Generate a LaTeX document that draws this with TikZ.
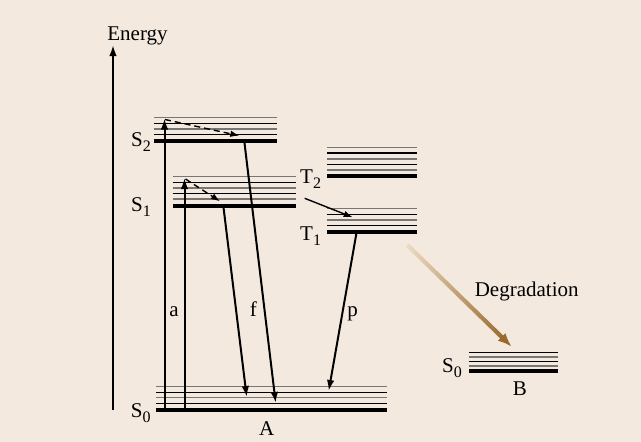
\documentclass[tikz,border=0pt]{standalone}
\usepackage{fontspec}
\setmainfont{Liberation Serif}
\usetikzlibrary{arrows.meta,calc}
\definecolor{bg}{HTML}{F3E9DF}
\definecolor{lvgray}{HTML}{767676}
\definecolor{degr}{HTML}{9A6A2C}
\definecolor{degl}{HTML}{EDDCC6}
\newcommand\lsub[1]{\raisebox{-5pt}{\fontsize{16}{16}\selectfont #1}}
\begin{document}
\begin{tikzpicture}[x=1pt,y=-1pt,
  blevel/.style={line width=1.4pt},
  glevel/.style={line width=1.4pt, draw=lvgray},
  tlevel/.style={line width=4.2pt},
  trans/.style={line width=2pt, -{Latex[length=11pt,width=7.5pt]}},
  relax/.style={line width=1.4pt, dash pattern=on 6pt off 4pt, -{Latex[length=9pt,width=6.5pt]}},
  lbl/.style={font=\fontsize{21}{24}\selectfont, inner sep=0pt, anchor=base west},
  clbl/.style={font=\fontsize{21}{24}\selectfont, inner sep=0pt, anchor=base},
]
\fill[bg] (0,0) rectangle (641,442);
\useasboundingbox (0,0) rectangle (641,442);

% Energy axis
\coordinate (axb) at (113,410);
\coordinate (axt) at (113,45);
\draw[trans] (axb) -- (axt);
\node[clbl] (energy) at (137.5,40) {Energy};

% S2 levels
\foreach \y/\s in {117.3/glevel,123.3/blevel,129/glevel,134.3/blevel}
  \draw[\s] (154,\y) -- (277,\y);
\draw[tlevel] (154,141.3) -- (277,141.3);
% S1 levels
\foreach \y/\s in {176.7/glevel,182.3/blevel,188/glevel,193.7/blevel,199/glevel}
  \draw[\s] (172.7,\y) -- (296,\y);
\draw[tlevel] (172.7,205.7) -- (296,205.7);
% T2 levels
\foreach \y/\s in {147.3/glevel,153/blevel,159/glevel,164.3/blevel,170/glevel}
  \draw[\s] (327.3,\y) -- (416.7,\y);
\draw[tlevel] (327.3,176.3) -- (416.7,176.3);
% T1 levels
\foreach \y/\s in {208.7/glevel,214.3/blevel,220/glevel,225.7/blevel}
  \draw[\s] (327.3,\y) -- (416.7,\y);
\draw[tlevel] (327.3,231.7) -- (416.7,231.7);
% S0 (A) levels
\foreach \y/\s in {386.7/glevel,392.3/blevel,397.7/glevel,403.3/blevel}
  \draw[\s] (156,\y) -- (387.3,\y);
\draw[tlevel] (156,410) -- (387.3,410);
% S0 (B) levels
\foreach \y/\s in {352.5/blevel,357/glevel,361.5/blevel,366/glevel}
  \draw[\s] (469,\y) -- (557.5,\y);
\draw[tlevel] (469,371) -- (557.5,371);

% labels
\node[lbl] (s2) at (131,146.7) {S\lsub{2}};
\node[lbl] (s1) at (131,211.7) {S\lsub{1}};
\node[lbl] (s0) at (130.7,417.5) {S\lsub{0}};
\node[lbl] (t2) at (300,183.3) {T\lsub{2}};
\node[lbl] (t1) at (300,240) {T\lsub{1}};
\node[lbl] (s0b) at (442,372) {S\lsub{0}};
\node[clbl] (A) at (266.7,435) {A};
\node[clbl] (B) at (520,395) {B};
\node[clbl] (la) at (174,316.7) {a};
\node[clbl] (lf) at (253.3,316.7) {f};
\node[clbl] (lp) at (352.7,316.7) {p};
\node[clbl] (degtxt) at (526.7,296.7) {Degradation};

% transition endpoints
\coordinate (a1s) at (164.5,410);   \coordinate (a1e) at (164.5,118.5);
\coordinate (a2s) at (184.5,410);   \coordinate (a2e) at (184.5,178);
\coordinate (r2s) at (165,119.5);   \coordinate (r2e) at (239.3,135.7);
\coordinate (r1s) at (185.5,179);   \coordinate (r1e) at (220,201.3);
\coordinate (f1s) at (223.3,205.7); \coordinate (f1e) at (246.7,397);
\coordinate (f2s) at (244.3,141.3); \coordinate (f2e) at (275.7,403);
\coordinate (iscs) at (304.7,198.3); \coordinate (isce) at (352.7,217.3);
\coordinate (ps) at (356.7,231.7);  \coordinate (pe) at (328.7,391);
\coordinate (dg1) at (407.3,245);   \coordinate (dg2) at (511.7,346.7);

\draw[trans] (a1s) -- (a1e);
\draw[trans] (a2s) -- (a2e);
\draw[relax] (r2s) -- (r2e);
\draw[relax] (r1s) -- (r1e);
\draw[line width=1.4pt, -{Latex[length=9pt,width=6.5pt]}] (iscs) -- (isce);
\draw[trans] (f1s) -- (f1e);
\draw[trans] (f2s) -- (f2e);
\draw[trans] (ps) -- (pe);

% degradation arrow with gradient shaft
\begin{scope}[shift={(dg1)}, rotate=-44.25]
  \shade[left color=degl, right color=degr] (0,-2.1) rectangle (134,2.1);
\end{scope}
\draw[line width=4.2pt, degr, -{Latex[length=14pt,width=11pt]}]
  ($(dg1)!0.9!(dg2)$) -- (dg2);
\end{tikzpicture}
\end{document}
